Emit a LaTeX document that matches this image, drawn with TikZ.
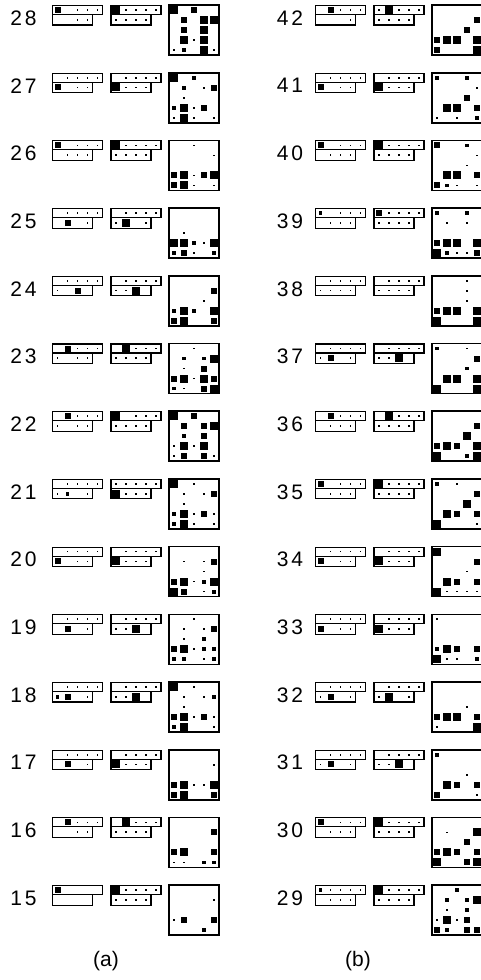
\documentclass[tikz,border=0pt]{standalone}
\usepackage{fontspec}
\setmainfont{Liberation Sans}
\def\qb{8}\def\qm{6}\def\qs{3.8}\def\qd{1.7}
\tikzset{
  matbox/.style={draw=black, line width=1.6pt},
  stairbox/.style={draw=black, line width=1.1pt},
  lab/.style={font=\fontsize{21}{21}\selectfont, inner sep=0pt},
}
\newcommand\hsq[3]{\fill[black] ({#1-0.5*(#3)},{#2-0.5*(#3)}) rectangle ({#1+0.5*(#3)},{#2+0.5*(#3)});}
% staircase: x0, y0, top list (c/size), bottom list
\newcommand\stair[4]{%
  \draw[stairbox] ({#1},{#2+5.5}) rectangle ({#1+50},{#2+14.5});
  \draw[stairbox] ({#1},{#2+14.5}) rectangle ({#1+40},{#2+25});
  \foreach \hc/\hz in {#3} {\hsq{#1+5+10*\hc}{#2+10}{\hz}}
  \foreach \hc/\hz in {#4} {\hsq{#1+5+10*\hc}{#2+19.75}{\hz}}
}
% matrix: x0, y0, list c/r/size
\newcommand\hmat[3]{%
  \foreach \hc/\hr/\hz in {#3} {\hsq{#1+5+10*\hc}{#2+5+10*\hr}{\hz}}
  \draw[matbox] ({#1},{#2}) rectangle ({#1+50},{#2+50});
}
% row: column, index, label, b1top, b1bot, b2top, b2bot, matrix
\newcommand\hrow[8]{%
  \pgfmathsetmacro\ry{67.7*#2}
  \pgfmathsetmacro\rx{263*#1}
  \node[lab] (lab-#1-#2) at ({23.5+266.5*#1},{\ry+18}) {#3};
  \stair{52.5+\rx}{\ry}{#4}{#5}
  \stair{111+\rx}{\ry}{#6}{#7}
  \hmat{169+\rx}{\ry+5}{#8}
}
\begin{document}
\begin{tikzpicture}[x=1pt,y=-1pt]
\useasboundingbox (0,0) rectangle (480,980);
\fill[white] (0,0) rectangle (480,980);
% ---------- column (a)
\hrow{0}{0}{2\kern3pt8}{0/\qm,2/\qd,3/\qd,4/\qd}{2/\qd,3/\qd}{0/\qb,1/\qd,2/\qd,3/\qd,4/\qd}{0/\qd,1/\qd,2/\qd,3/\qd}
 {0/0/\qb,2/0/\qm,1/1/\qm,3/1/\qb,4/1/\qb,1/2/\qm,3/2/\qb,1/3/\qb,2/3/\qd,3/3/\qb,0/4/\qd,1/4/\qs,3/4/\qb,4/4/\qd}
\hrow{0}{1}{2\kern3pt7}{1/\qd,2/\qd,3/\qd,4/\qd}{0/\qm,2/\qd,3/\qd}{1/\qd,2/\qd,3/\qd,4/\qd}{0/\qb,1/\qd,2/\qd,3/\qd}
 {0/0/\qb,2/0/\qs,1/1/\qs,3/1/\qd,4/1/\qm,1/2/\qd,0/3/\qs,1/3/\qb,2/3/\qd,3/3/\qm,0/4/\qd,1/4/\qb,2/4/\qd,4/4/\qd}
\hrow{0}{2}{2\kern3pt6}{0/\qm,2/\qd,3/\qd,4/\qd}{1/\qd,2/\qd,3/\qd}{0/\qb,1/\qd,2/\qd,3/\qd,4/\qd}{0/\qd,1/\qd,2/\qd,3/\qd}
 {2/0/\qd,4/1/\qd,0/3/\qm,1/3/\qb,2/3/\qd,3/3/\qm,4/3/\qb,0/4/\qm,1/4/\qb,2/4/\qd,4/4/\qd}
\hrow{0}{3}{2\kern3pt5}{1/\qd,2/\qd,3/\qd,4/\qd}{1/\qm,3/\qd}{1/\qd,2/\qd,3/\qd,4/\qd}{0/\qd,1/\qb,3/\qd}
 {1/2/\qd,0/3/\qb,1/3/\qb,2/3/\qs,3/3/\qd,4/3/\qb,0/4/\qs,1/4/\qm,2/4/\qd,4/4/\qs}
\hrow{0}{4}{2\kern3pt4}{1/\qd,2/\qd,3/\qd,4/\qd}{0/\qd,2/\qm}{1/\qd,2/\qd,3/\qd,4/\qd}{0/\qd,1/\qd,2/\qb}
 {4/1/\qm,3/2/\qd,0/3/\qs,1/3/\qb,2/3/\qs,4/3/\qb,0/4/\qm,1/4/\qb,4/4/\qm}
\hrow{0}{5}{2\kern3pt3}{1/\qm,2/\qd,3/\qd,4/\qd}{0/\qd,2/\qd,3/\qd}{1/\qb,2/\qd,3/\qd,4/\qd}{0/\qd,1/\qd,2/\qd,3/\qd}
 {2/0/\qd,1/1/\qs,3/1/\qs,4/1/\qb,1/2/\qd,3/2/\qm,0/3/\qm,1/3/\qb,2/3/\qd,3/3/\qb,4/3/\qm,0/4/\qs,1/4/\qd,3/4/\qm,4/4/\qb}
\hrow{0}{6}{2\kern3pt2}{1/\qm,2/\qd,3/\qd,4/\qd}{0/\qd,2/\qd,3/\qd}{0/\qb,2/\qd,3/\qd,4/\qd}{0/\qd,1/\qd,2/\qd,3/\qd}
 {0/0/\qb,2/0/\qm,1/1/\qm,3/1/\qm,4/1/\qb,1/2/\qs,3/2/\qm,0/3/\qd,1/3/\qb,2/3/\qd,3/3/\qb,0/4/\qd,1/4/\qm,3/4/\qm,4/4/\qd}
\hrow{0}{7}{2\kern3pt1}{1/\qd,2/\qd,3/\qd,4/\qd}{0/\qd,1/\qs,3/\qd}{0/\qd,1/\qd,2/\qd,3/\qd,4/\qd}{0/\qb,1/\qd,2/\qd,3/\qd}
 {0/0/\qb,2/0/\qd,1/1/\qd,3/1/\qd,4/1/\qm,1/2/\qd,0/3/\qs,1/3/\qb,2/3/\qd,3/3/\qm,4/3/\qd,0/4/\qs,1/4/\qb,2/4/\qd,4/4/\qd}
\hrow{0}{8}{2\kern3pt0}{1/\qd,2/\qd,3/\qd,4/\qd}{0/\qm,2/\qd,3/\qd}{1/\qd,2/\qd,3/\qd,4/\qd}{0/\qb,1/\qd,2/\qd,3/\qd}
 {1/1/\qd,3/1/\qd,4/1/\qm,3/2/\qd,0/3/\qm,1/3/\qb,2/3/\qd,3/3/\qs,4/3/\qb,0/4/\qb,1/4/\qm,3/4/\qd,4/4/\qs}
\hrow{0}{9}{1\kern3pt9}{1/\qd,2/\qd,3/\qd,4/\qd}{1/\qm,3/\qd}{1/\qd,2/\qd,3/\qd,4/\qd}{0/\qd,1/\qd,2/\qb}
 {2/0/\qd,1/1/\qd,3/1/\qd,4/1/\qm,1/2/\qd,3/2/\qs,0/3/\qm,1/3/\qb,2/3/\qd,3/3/\qs,4/3/\qs,0/4/\qs,1/4/\qs,3/4/\qd,4/4/\qs}
\hrow{0}{10}{1\kern3pt8}{1/\qd,2/\qd,3/\qd,4/\qd}{0/\qs,1/\qm,3/\qd}{1/\qd,2/\qd,3/\qd,4/\qd}{0/\qd,1/\qd,2/\qb}
 {0/0/\qb,2/0/\qd,1/1/\qd,3/1/\qd,4/1/\qs,1/2/\qd,0/3/\qm,1/3/\qb,2/3/\qd,3/3/\qm,4/3/\qd,0/4/\qs,1/4/\qb,4/4/\qd}
\hrow{0}{11}{1\kern3pt7}{1/\qd,2/\qd,3/\qd,4/\qd}{1/\qm,3/\qd}{1/\qd,2/\qd,3/\qd,4/\qd}{0/\qb,1/\qd,2/\qd,3/\qd}
 {4/1/\qd,0/3/\qm,1/3/\qb,2/3/\qd,3/3/\qd,4/3/\qb,0/4/\qm,1/4/\qb,4/4/\qm}
\hrow{0}{12}{1\kern3pt6}{1/\qm,2/\qd,3/\qd,4/\qd}{2/\qd,3/\qd}{1/\qb,2/\qd,3/\qd,4/\qd}{0/\qd,1/\qd,2/\qd,3/\qd}
 {4/1/\qm,0/3/\qm,1/3/\qb,4/3/\qm,0/4/\qd,1/4/\qd,3/4/\qs,4/4/\qs}
\hrow{0}{13}{1\kern3pt5}{0/\qm}{0/0}{0/\qb,1/\qd,2/\qd,3/\qd,4/\qd}{0/\qd,1/\qd,2/\qd,3/\qd}
 {4/1/\qd,0/3/\qd,1/3/\qm,4/3/\qm,3/4/\qs}
% ---------- column (b)
\hrow{1}{0}{4\kern3pt2}{1/\qm,2/\qd,3/\qd,4/\qd}{3/\qd}{0/\qd,1/\qb,2/\qd,3/\qd,4/\qd}{0/\qd,1/\qd,2/\qd,3/\qd}
 {4/1/\qm,3/2/\qm,0/3/\qm,1/3/\qb,2/3/\qb,4/3/\qb,0/4/\qm,4/4/\qb}
\hrow{1}{1}{4\kern3pt1}{1/\qd,2/\qd,3/\qd,4/\qd}{0/\qm,2/\qd,3/\qd}{1/\qd,2/\qd,3/\qd,4/\qd}{0/\qb,1/\qd,2/\qd,3/\qd}
 {0/0/\qs,3/0/\qs,4/1/\qd,3/2/\qm,1/3/\qb,2/3/\qb,4/3/\qm,0/4/\qd,2/4/\qd,4/4/\qs}
\hrow{1}{2}{4\kern3pt0}{0/\qm,2/\qd,3/\qd,4/\qd}{1/\qd,2/\qd,3/\qd}{0/\qb,1/\qd,2/\qd,3/\qd,4/\qd}{0/\qd,1/\qd,2/\qd,3/\qd}
 {0/0/\qm,3/0/\qs,4/1/\qd,3/2/\qd,1/3/\qb,2/3/\qb,4/3/\qm,0/4/\qm,1/4/\qs,2/4/\qd,4/4/\qd}
\hrow{1}{3}{3\kern3pt9}{0/\qs,2/\qd,3/\qd,4/\qd}{1/\qd,2/\qd,3/\qd}{0/\qm,1/\qd,2/\qd,3/\qd,4/\qd}{0/\qd,1/\qd,2/\qd,3/\qd}
 {0/0/\qs,3/0/\qs,1/1/\qd,3/1/\qd,0/3/\qm,1/3/\qb,2/3/\qb,4/3/\qb,0/4/\qb,1/4/\qs,2/4/\qd,3/4/\qd,4/4/\qm}
\hrow{1}{4}{3\kern3pt8}{1/\qd,2/\qd,3/\qd,4/\qd}{0/\qd,1/\qd,2/\qd,3/\qd}{1/\qd,2/\qd,3/\qd,4/\qd}{0/\qd,1/\qd,2/\qd,3/\qd}
 {3/0/\qd,3/1/\qd,3/2/\qd,0/3/\qm,1/3/\qb,2/3/\qb,4/3/\qb,0/4/\qb,4/4/\qb}
\hrow{1}{5}{3\kern3pt7}{1/\qd,2/\qd,3/\qd,4/\qd}{0/\qd,1/\qm,3/\qd}{1/\qd,2/\qd,3/\qd,4/\qd}{0/\qd,1/\qd,2/\qb}
 {0/0/\qs,3/0/\qd,4/1/\qm,3/2/\qs,1/3/\qb,2/3/\qb,4/3/\qb,0/4/\qb,4/4/\qb}
\hrow{1}{6}{3\kern3pt6}{1/\qm,2/\qd,3/\qd,4/\qd}{1/\qd,2/\qd,3/\qd}{1/\qb,2/\qd,3/\qd,4/\qd}{0/\qd,1/\qd,2/\qd,3/\qd}
 {4/1/\qm,3/2/\qb,0/3/\qm,1/3/\qb,2/3/\qm,4/3/\qb,0/4/\qb,3/4/\qs,4/4/\qb}
\hrow{1}{7}{3\kern3pt5}{0/\qm,2/\qd,3/\qd,4/\qd}{1/\qd,2/\qd,3/\qd}{0/\qb,1/\qd,2/\qd,3/\qd,4/\qd}{0/\qd,1/\qd,2/\qd,3/\qd}
 {0/0/\qs,2/0/\qd,4/1/\qm,3/2/\qb,1/3/\qb,2/3/\qm,4/3/\qm,0/4/\qb,4/4/\qd}
\hrow{1}{8}{3\kern3pt4}{1/\qd,2/\qd,3/\qd,4/\qd}{0/\qm,2/\qd,3/\qd}{1/\qd,2/\qd,3/\qd,4/\qd}{0/\qb,1/\qd,2/\qd,3/\qd}
 {0/0/\qb,4/1/\qm,3/2/\qd,1/3/\qb,2/3/\qm,4/3/\qm,0/4/\qb,1/4/\qd,2/4/\qd,3/4/\qd,4/4/\qd}
\hrow{1}{9}{3\kern3pt3}{1/\qd,2/\qd,3/\qd,4/\qd}{0/\qm,2/\qd,3/\qd}{1/\qd,2/\qd,3/\qd,4/\qd}{0/\qb,1/\qd,2/\qd,3/\qd}
 {0/0/\qd,0/3/\qs,1/3/\qb,2/3/\qm,4/3/\qm,0/4/\qb,1/4/\qd,2/4/\qd,4/4/\qs}
\hrow{1}{10}{3\kern3pt2}{1/\qd,2/\qd,3/\qd,4/\qd}{0/\qd,1/\qm,3/\qd}{1/\qd,2/\qd,3/\qd,4/\qd}{0/\qd,1/\qb,3/\qd}
 {3/2/\qd,0/3/\qm,1/3/\qb,2/3/\qb,4/3/\qm,0/4/\qd,4/4/\qb}
\hrow{1}{11}{3\kern3pt1}{1/\qd,2/\qd,3/\qd,4/\qd}{0/\qd,1/\qm,3/\qd}{1/\qd,2/\qd,3/\qd,4/\qd}{0/\qd,1/\qd,2/\qb}
 {0/0/\qs,3/2/\qd,1/3/\qb,2/3/\qm,4/3/\qm,0/4/\qm,4/4/\qd}
\hrow{1}{12}{3\kern3pt0}{0/\qm,2/\qd,3/\qd,4/\qd}{1/\qd,2/\qd,3/\qd}{0/\qb,1/\qd,2/\qd,3/\qd,4/\qd}{0/\qd,1/\qd,2/\qd,3/\qd}
 {1/1/\qd,4/1/\qb,3/2/\qm,0/3/\qm,1/3/\qb,2/3/\qm,4/3/\qm,0/4/\qb,3/4/\qm,4/4/\qb}
\hrow{1}{13}{2\kern3pt9}{0/\qs,1/\qd,2/\qd,3/\qd,4/\qd}{1/\qd,2/\qd,3/\qd}{0/\qb,1/\qd,2/\qd,3/\qd,4/\qd}{0/\qd,1/\qd,2/\qd,3/\qd}
 {2/0/\qs,1/1/\qs,3/1/\qs,4/1/\qb,1/2/\qd,3/2/\qs,0/3/\qd,1/3/\qb,2/3/\qd,3/3/\qm,0/4/\qm,1/4/\qs,3/4/\qm,4/4/\qm}
% ---------- captions
\node[lab] (capa) at (106,961) {(a)};
\node[lab] (capb) at (358,961) {(b)};
\end{tikzpicture}
\end{document}
